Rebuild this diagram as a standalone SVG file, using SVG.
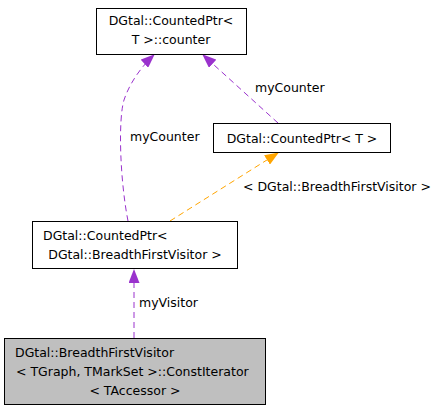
<svg xmlns="http://www.w3.org/2000/svg" width="440" height="413" viewBox="0 0 440 413">
<style>
text{font-family:"DejaVu Sans","Liberation Sans",sans-serif;font-size:12.5px;fill:#000}
.box{fill:#fff;stroke:#000;stroke-width:1}
.cur{fill:#bfbfbf;stroke:#000;stroke-width:1}
.p{fill:none;stroke:#9a32cd;stroke-dasharray:6,4}
.o{fill:none;stroke:#ffa500;stroke-dasharray:6,4}
</style>
<defs>
<marker id="ap" markerWidth="14" markerHeight="11" refX="13" refY="5.5" orient="auto" markerUnits="userSpaceOnUse" viewBox="0 0 14 11"><path d="M0,0 L14,5.5 L0,11 z" fill="#9a32cd"/></marker>
<marker id="ao" markerWidth="14" markerHeight="11" refX="13" refY="5.5" orient="auto" markerUnits="userSpaceOnUse" viewBox="0 0 14 11"><path d="M0,0 L14,5.5 L0,11 z" fill="#ffa500"/></marker>
</defs>
<g id="edges">
<path class="p" d="M134,338 L134,270" marker-end="url(#ap)"/>
<text x="139" y="307">myVisitor</text>
<path class="p" d="M128,221 C120,180 118,120 124,100 C130,82 142,66 154,55" marker-end="url(#ap)"/>
<text x="130" y="141">myCounter</text>
<path class="p" d="M278,123 L203,55" marker-end="url(#ap)"/>
<text x="255" y="92">myCounter</text>
<path class="o" d="M170,221 L278,153" marker-end="url(#ao)"/>
<text x="243" y="191">&lt; DGtal::BreadthFirstVisitor &gt;</text>
</g>
<g id="counter">
<rect class="box" x="96.5" y="8.5" width="150" height="46"/>
<text x="171" y="25" text-anchor="middle">DGtal::CountedPtr&lt;</text>
<text x="171" y="44" text-anchor="middle">T &gt;::counter</text>
</g>
<g id="countedptrT">
<rect class="box" x="213.5" y="123.5" width="177" height="29"/>
<text x="302" y="143" text-anchor="middle">DGtal::CountedPtr&lt; T &gt;</text>
</g>
<g id="countedptrBFV">
<rect class="box" x="32.5" y="221.5" width="205" height="47"/>
<text x="43" y="240">DGtal::CountedPtr&lt;</text>
<text x="135" y="259" text-anchor="middle">DGtal::BreadthFirstVisitor &gt;</text>
</g>
<g id="constIterator">
<rect class="cur" x="4.5" y="338.5" width="261" height="66"/>
<text x="15" y="357">DGtal::BreadthFirstVisitor</text>
<text x="16" y="376">&lt; TGraph, TMarkSet &gt;::ConstIterator</text>
<text x="135" y="395" text-anchor="middle">&lt; TAccessor &gt;</text>
</g>
</svg>
